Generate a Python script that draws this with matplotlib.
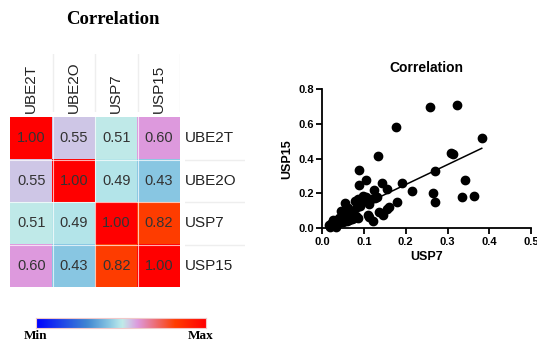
import numpy as np
import matplotlib
matplotlib.use("Agg")
import matplotlib.pyplot as plt
from matplotlib.colors import LinearSegmentedColormap

# heatmap data
genes = ["UBE2T", "UBE2O", "USP7", "USP15"]
corr = np.array([
    [1.00, 0.55, 0.51, 0.60],
    [0.55, 1.00, 0.49, 0.43],
    [0.51, 0.49, 1.00, 0.82],
    [0.60, 0.43, 0.82, 1.00],
])

# scatter data
usp7 = [0.258, 0.322, 0.177, 0.382, 0.309, 0.314, 0.134, 0.088, 0.269, 0.341,
        0.104, 0.089, 0.144, 0.192, 0.154, 0.123, 0.215, 0.266, 0.335, 0.363,
        0.271, 0.180, 0.132, 0.159, 0.155, 0.136, 0.146, 0.109, 0.112, 0.122,
        0.113, 0.097, 0.101, 0.086, 0.078, 0.090, 0.084, 0.054, 0.061, 0.045,
        0.050, 0.055, 0.060, 0.065, 0.070, 0.075, 0.080, 0.085, 0.040, 0.035,
        0.030, 0.025, 0.020, 0.015, 0.018, 0.030, 0.038, 0.045, 0.050, 0.058,
        0.065, 0.072, 0.048, 0.033, 0.042, 0.068, 0.094, 0.105, 0.117, 0.126]
usp15 = [0.699, 0.706, 0.582, 0.519, 0.430, 0.428, 0.415, 0.337, 0.331, 0.279,
         0.277, 0.248, 0.262, 0.262, 0.226, 0.220, 0.214, 0.201, 0.182, 0.184,
         0.149, 0.151, 0.182, 0.121, 0.109, 0.094, 0.078, 0.078, 0.067, 0.042,
         0.138, 0.188, 0.172, 0.170, 0.159, 0.128, 0.124, 0.143, 0.115, 0.100,
         0.080, 0.065, 0.075, 0.060, 0.070, 0.062, 0.068, 0.060, 0.060, 0.050,
         0.040, 0.050, 0.025, 0.018, 0.010, 0.020, 0.030, 0.045, 0.035, 0.040,
         0.050, 0.055, 0.055, 0.008, 0.038, 0.092, 0.160, 0.180, 0.170, 0.175]

cmap = LinearSegmentedColormap.from_list("corr", [
    (0.0, "#0000ff"), (0.3, "#3f86d2"), (0.43, "#88c6e2"), (0.49, "#b3e4ea"),
    (0.51, "#c0eae8"), (0.55, "#cfc6e6"), (0.6, "#dd99dd"), (0.82, "#ff3c00"),
    (1.0, "#ff0000")])

fig = plt.figure(figsize=(5.37, 3.41), dpi=100)
W, H = 537, 341

def box(x0, y0, x1, y1):
    return [x0 / W, 1 - y1 / H, (x1 - x0) / W, (y1 - y0) / H]

fig.text(113 / W, 1 - 19 / H, "Correlation", ha="center", va="center",
         fontsize=13.5, fontweight="bold", family="Liberation Serif")

# heatmap
ax = fig.add_axes(box(10, 117, 180, 287))
ax.imshow(corr, cmap=cmap, vmin=0, vmax=1, aspect="auto",
          extent=(0, 4, 4, 0))
for i in range(4):
    for j in range(4):
        ax.text(j + 0.5, i + 0.5, f"{corr[i, j]:.2f}", ha="center", va="center",
                fontsize=10.5, color="#333333", family="Liberation Sans")
for k in range(1, 4):
    ax.axvline(k, color="white", lw=0.8, alpha=0.7)
    ax.axhline(k, color="white", lw=0.8, alpha=0.7)
ax.set_xlim(0, 4)
ax.set_ylim(4, 0)
ax.axis("off")

# column labels with separators
top = fig.add_axes(box(10, 54, 180, 112))
top.set_xlim(0, 4)
top.set_ylim(0, 1)
for j, g in enumerate(genes):
    top.text(j + 0.5, -0.02, g, rotation=90, ha="center", va="bottom",
             fontsize=11, color="#222222", family="Liberation Sans")
    top.axvline(j + 1, color="#eeeeee", lw=1)
top.axis("off")

# row labels with separators
side = fig.add_axes(box(185, 117, 245, 287))
side.set_xlim(0, 1)
side.set_ylim(4, 0)
for i, g in enumerate(genes):
    side.text(0.0, i + 0.5, g, ha="left", va="center",
              fontsize=11, color="#222222", family="Liberation Sans")
for k in range(1, 4):
    side.axhline(k, color="#eeeeee", lw=1)
side.axis("off")

# colour bar
cb = fig.add_axes(box(36, 318, 206, 328))
cb.imshow(np.linspace(0, 1, 256)[None, :], cmap=cmap, aspect="auto")
cb.set_xticks([])
cb.set_yticks([])
for s in cb.spines.values():
    s.set_color("#f0c8c8")
    s.set_linewidth(0.8)
fig.text(35 / W, 1 - 336 / H, "Min", ha="center", va="center",
         fontsize=9.5, fontweight="bold", family="Liberation Serif")
fig.text(201 / W, 1 - 336 / H, "Max", ha="center", va="center",
         fontsize=9.5, fontweight="bold", family="Liberation Serif")

# scatter plot
sx = fig.add_axes(box(322.3, 89, 531, 228.3))
sx.scatter(usp7, usp15, s=36, color="black", zorder=3, clip_on=False)
slope, intercept = np.polyfit(usp7, usp15, 1)
xs = np.array([min(usp7), max(usp7)])
sx.plot(xs, slope * xs + intercept, color="black", lw=1.1)
sx.set_xlim(0, 0.5)
sx.set_ylim(0, 0.8)
sx.set_xticks([0.0, 0.1, 0.2, 0.3, 0.4, 0.5])
sx.set_yticks([0.0, 0.2, 0.4, 0.6, 0.8])
sx.set_xticklabels(["0.0", "0.1", "0.2", "0.3", "0.4", "0.5"])
sx.set_yticklabels(["0.0", "0.2", "0.4", "0.6", "0.8"])
sx.spines["top"].set_visible(False)
sx.spines["right"].set_visible(False)
for s in ("left", "bottom"):
    sx.spines[s].set_linewidth(1.3)
sx.tick_params(width=1.3, length=4, labelsize=8, pad=2)
for lab in sx.get_xticklabels() + sx.get_yticklabels():
    lab.set_fontweight("bold")
    lab.set_family("Liberation Sans")
sx.set_xlabel("USP7", fontsize=9, fontweight="bold", family="Liberation Sans", labelpad=3)
sx.set_ylabel("USP15", fontsize=9, fontweight="bold", family="Liberation Sans", labelpad=4)
sx.set_title("Correlation", fontsize=10, fontweight="bold", family="Liberation Sans", pad=12)

fig.savefig("out.png", dpi=100)
